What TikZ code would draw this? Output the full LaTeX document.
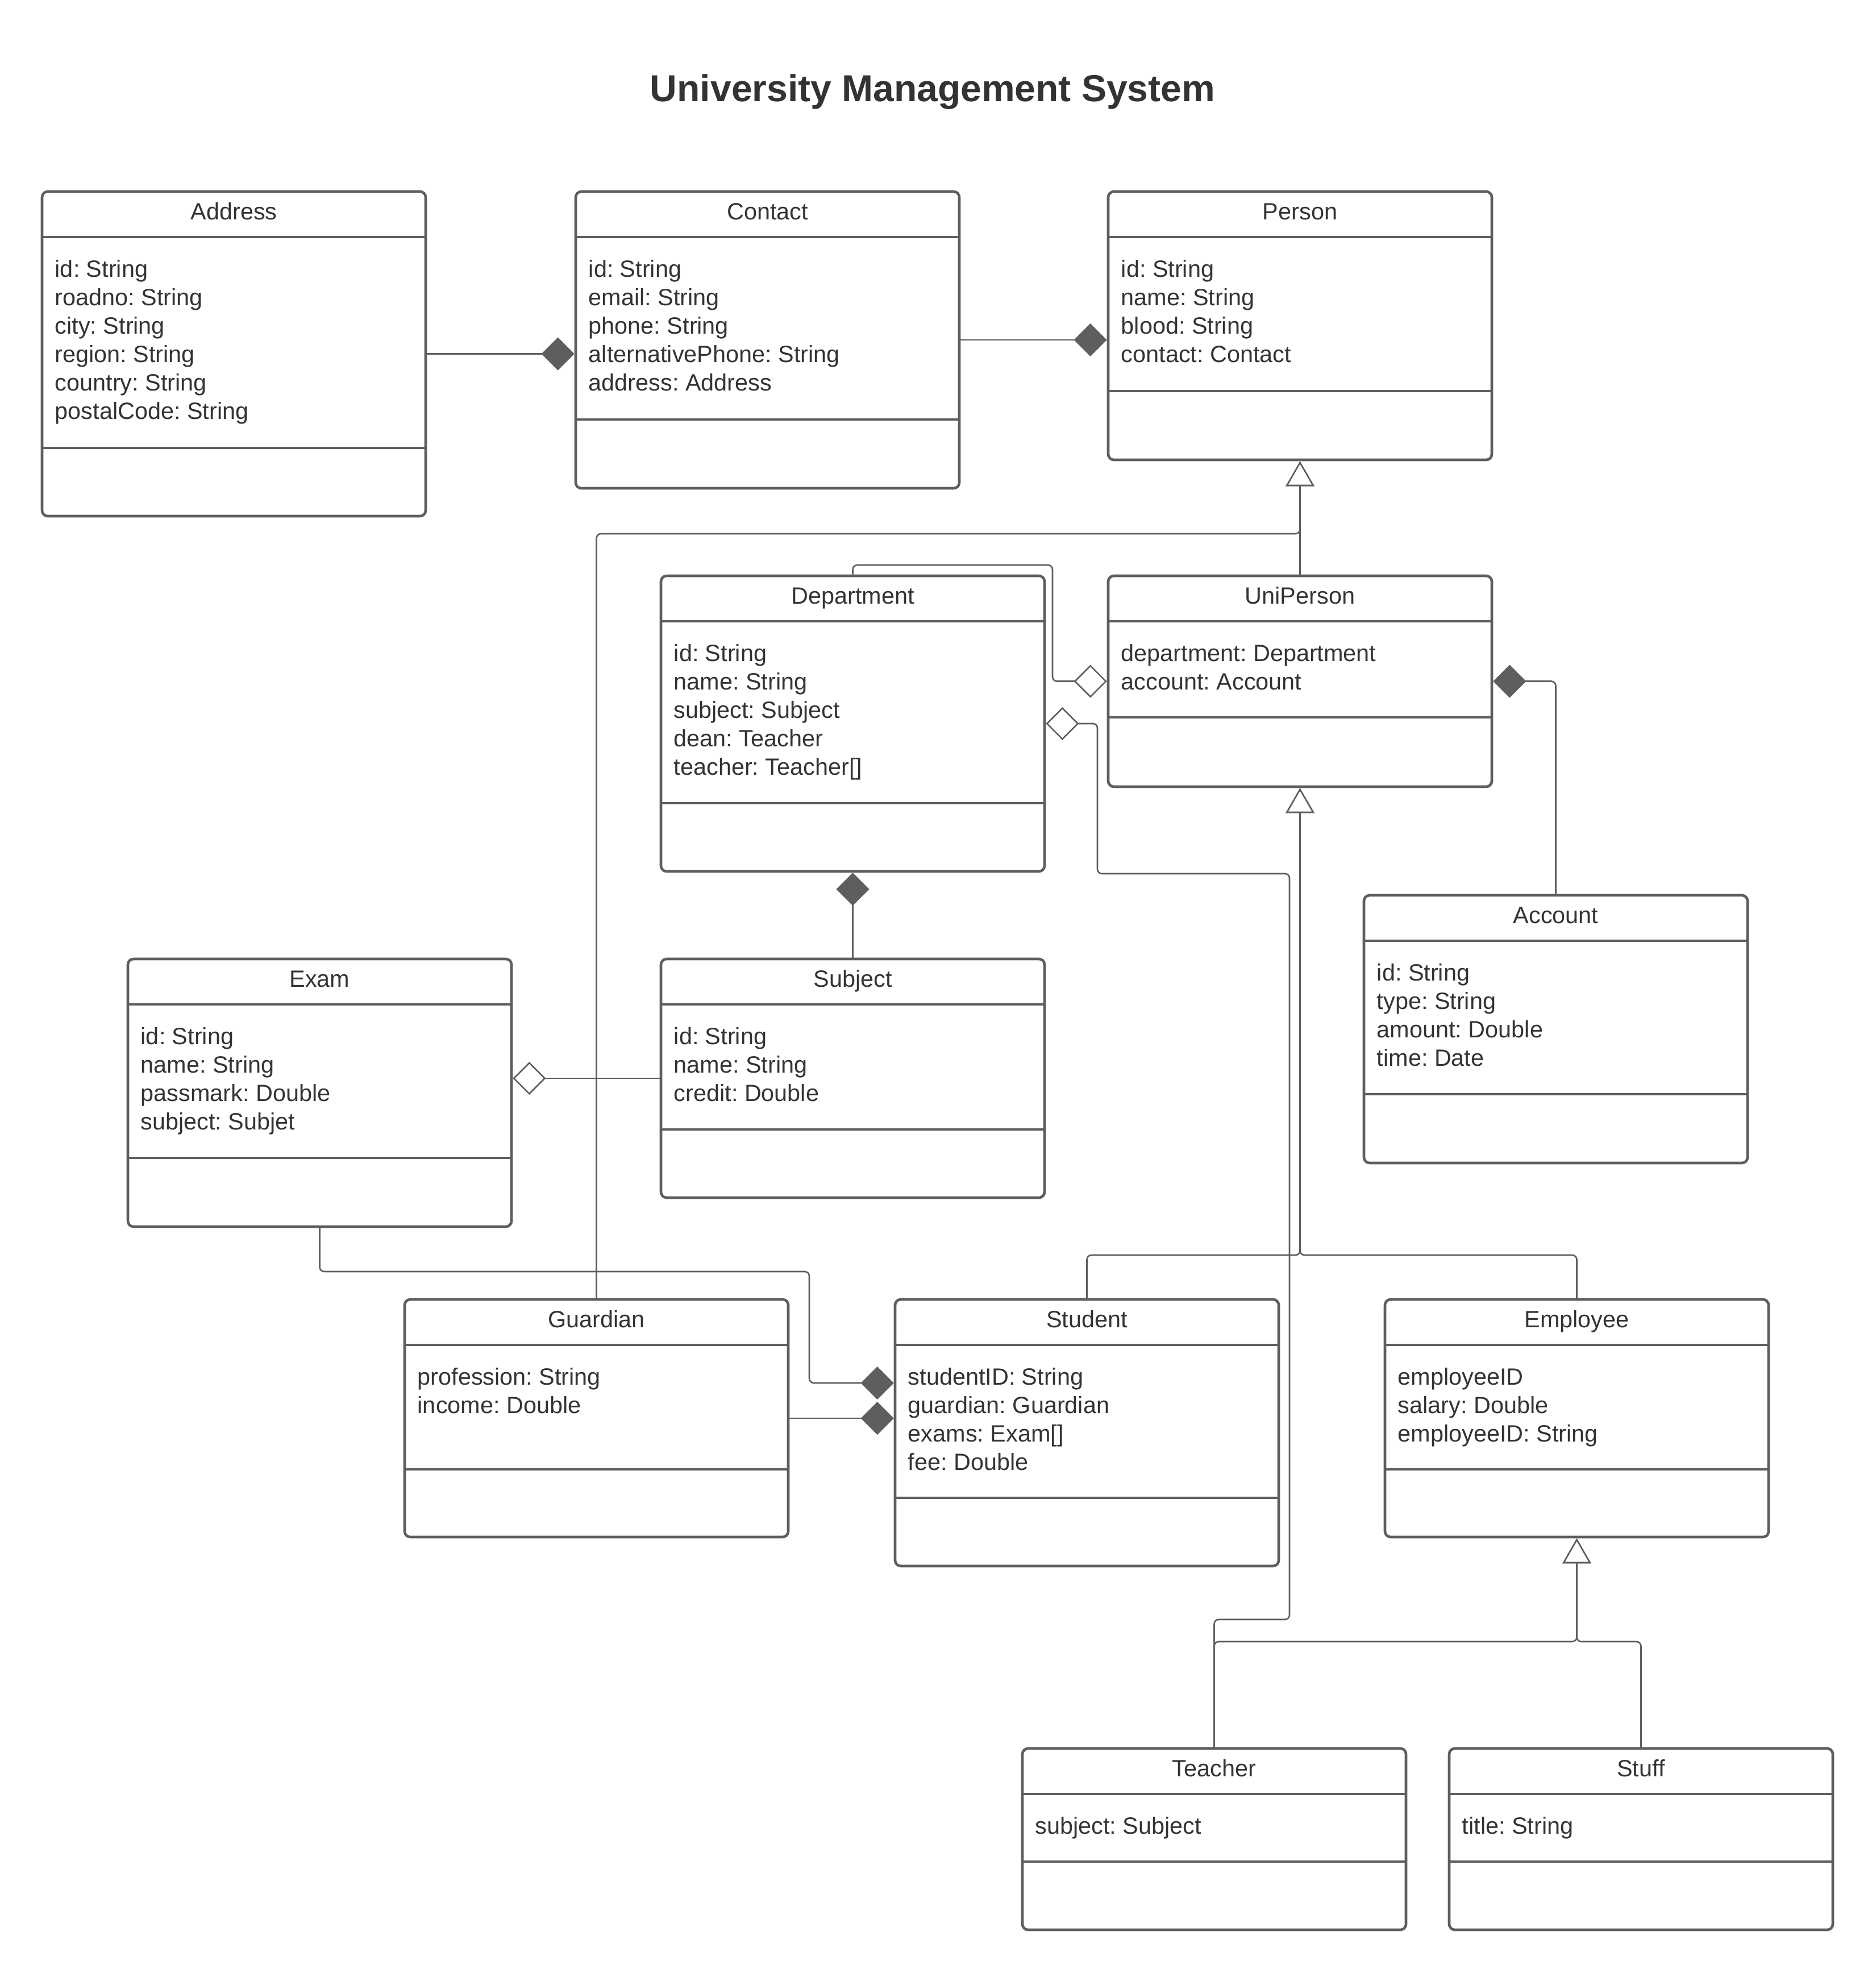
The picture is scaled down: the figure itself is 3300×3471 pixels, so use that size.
\documentclass[tikz,border=0pt]{standalone}
\usepackage{fontspec}
\setmainfont{Liberation Sans}
\usetikzlibrary{arrows.meta,fit,calc}
\definecolor{lg}{HTML}{5E5E5E}
\definecolor{tx}{HTML}{333333}

\newcommand\umlclass[6]{%
  \node[classbox, fit={(#2,#3)(#2+675,#5)}] (#1) {};
  \draw[divider] (#2,#3+80) -- (#2+675,#3+80);
  \draw[divider] (#2,#4) -- (#2+675,#4);
  \node[ctext, anchor=base] (#1-title) at (#2+337.5,#3+49) {#6};
}
\newcommand\umlattrs[4]{%
  \foreach \txt [count=\i] in {#4}
    \node[ctext, anchor=base west] (#1-attr\i) at (#2+22,#3+150+50*\i-50) {\txt};
}

\begin{document}
\begin{tikzpicture}[x=0.25pt,y=-0.25pt,
  classbox/.style={draw=lg, line width=1.15pt, rounded corners=2.5pt, inner sep=0pt, fill=white},
  divider/.style={draw=lg, line width=1pt},
  ctext/.style={text=tx, inner sep=0pt, font=\fontsize{10.35pt}{12.4pt}\selectfont\frenchspacing},
  conn/.style={draw=lg, line width=0.65pt, rounded corners=2pt},
  comp/.style={-{Diamond[length=14.5pt,width=14.5pt,fill=lg]}},
  aggr/.style={-{Diamond[open,length=14.5pt,width=14.5pt,fill=white]}},
  gen/.style={-{Triangle[open,length=11pt,width=12.5pt,fill=white]}},
]
\fill[white] (0,0) rectangle (3300,3471);
\useasboundingbox (0,0) rectangle (3300,3471);

\node[text=tx, inner sep=0pt, anchor=base, font=\fontsize{16.5pt}{19.8pt}\selectfont\bfseries] (title) at (1641,178) {University Management System};

% classes: name, left, top, separator, bottom, title
\umlclass{address}{74}{337}{788}{908}{Address}
\umlattrs{address}{74}{337}{id: String,roadno: String,city: String,region: String,country: String,postalCode: String}

\umlclass{contact}{1013}{337}{738}{859}{Contact}
\umlattrs{contact}{1013}{337}{id: String,email: String,phone: String,alternativePhone: String,address: Address}

\umlclass{person}{1950}{337}{688}{809}{Person}
\umlattrs{person}{1950}{337}{id: String,name: String,blood: String,contact: Contact}

\umlclass{department}{1163}{1013}{1413}{1533}{Department}
\umlattrs{department}{1163}{1013}{id: String,name: String,subject: Subject,dean: Teacher,teacher: Teacher[]}

\umlclass{uniperson}{1950}{1013}{1262}{1384}{UniPerson}
\umlattrs{uniperson}{1950}{1013}{department: Department,account: Account}

\umlclass{account}{2400}{1575}{1925}{2046}{Account}
\umlattrs{account}{2400}{1575}{id: String,type: String,amount: Double,time: Date}

\umlclass{exam}{225}{1687}{2037}{2158}{Exam}
\umlattrs{exam}{225}{1687}{id: String,name: String,passmark: Double,subject: Subjet}

\umlclass{subject}{1163}{1687}{1987}{2107}{Subject}
\umlattrs{subject}{1163}{1687}{id: String,name: String,credit: Double}

\umlclass{guardian}{712}{2286}{2585}{2704}{Guardian}
\umlattrs{guardian}{712}{2286}{profession: String,income: Double}

\umlclass{student}{1575}{2286}{2635}{2755}{Student}
\umlattrs{student}{1575}{2286}{studentID: String,guardian: Guardian,exams: Exam[],fee: Double}

\umlclass{employee}{2437}{2286}{2585}{2704}{Employee}
\umlattrs{employee}{2437}{2286}{employeeID,salary: Double,employeeID: String}

\umlclass{teacher}{1799}{3076}{3275}{3395}{Teacher}
\umlattrs{teacher}{1799}{3076}{subject: Subject}

\umlclass{stuff}{2550}{3076}{3275}{3395}{Stuff}
\umlattrs{stuff}{2550}{3076}{title: String}

% helper coordinates
\coordinate (gj) at (2287.5,939);
\coordinate (d1) at (1852,994);
\coordinate (t1) at (2269,2849);
\coordinate (t2) at (1931,1537);
\coordinate (e1) at (1424,2237);
\coordinate (e2) at (0,2433);
\coordinate (s1) at (2287.5,2208);
\coordinate (m1) at (2774.5,2888);

% connectors
\draw[conn,comp] (address.east) -- (address.east -| contact.west);
\draw[conn,comp] (contact.east) -- (contact.east -| person.west);
\draw[conn,gen] (uniperson.north) -- (person.south);
\draw[conn,gen] (guardian.north) |- (gj) -- (person.south);
\draw[conn,aggr] (department.north) |- (d1) |- (uniperson.west);
\draw[conn,aggr] (teacher.north) |- (t1) |- (t2) |- (department.east);
\draw[conn,comp] (account.north) |- (uniperson.east);
\draw[conn,comp] (subject.north) -- (department.south);
\draw[conn,aggr] (subject.west) -- (subject.west -| exam.east);
\draw[conn,comp] (exam.south) |- (e1) |- (student.west |- e2);
\draw[conn,comp] (guardian.east) -- (guardian.east -| student.west);
\draw[conn,gen] (student.north) |- (s1) -- (uniperson.south);
\draw[conn,gen] (employee.north) |- (s1) -- (uniperson.south);
\draw[conn,gen] (teacher.north) |- (m1) -- (employee.south);
\draw[conn,gen] (stuff.north) |- (m1) -- (employee.south);
\end{tikzpicture}
\end{document}
